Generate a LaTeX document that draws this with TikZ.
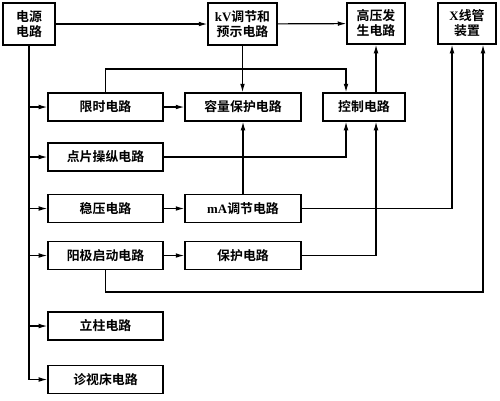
\documentclass[tikz,border=0pt]{standalone}
\usepackage{fontspec}
\setmainfont{Liberation Serif}
\newfontfamily\cjk{Noto Sans CJK SC}[BoldFont={Noto Sans CJK SC Bold}]
\usetikzlibrary{arrows.meta}
\newcommand\lat[1]{{\rmfamily\bfseries #1}}

\begin{document}
\begin{tikzpicture}[x=0.3mm,y=-0.3mm,
    line width=1pt,
    arr/.style={-{Latex[length=2.6mm,width=1.4mm]}}]

      \useasboundingbox (0,0) rectangle (500,400);

      \begin{scope}[every node/.style={draw,inner sep=0pt,align=center,
          minimum width=34.5mm,minimum height=8.4mm,
          font=\cjk\bfseries\fontsize{11}{12.8}\selectfont}]
        \node[minimum width=15.6mm,minimum height=12.6mm] (src)  at (29,24)    {电源\\电路};
        \node[minimum width=20.7mm,minimum height=12.6mm] (kv)   at (242.5,24) {\lat{kV}调节和\\预示电路};
        \node[minimum width=17.4mm,minimum height=12.3mm] (hv)   at (376,23.5) {高压发\\生电路};
        \node[minimum width=17.4mm,minimum height=12.3mm] (tube) at (467,23.5) {\lat{X}线管\\装置};
        \node (timer)   at (105.5,107)   {限时电路};
        \node[minimum width=34.8mm] (capprot) at (243,107) {容量保护电路};
        \node[minimum width=24.6mm] (ctrl)    at (364,107) {控制电路};
        \node (spot)    at (105.5,157)   {点片操纵电路};
        \node (stab)    at (105.5,208.5) {稳压电路};
        \node[minimum width=34.8mm] (ma)      at (243,208.5) {\lat{mA}调节电路};
        \node (anode)   at (105.5,255.5) {阳极启动电路};
        \node[minimum width=34.8mm] (prot)    at (243,255.5) {保护电路};
        \node (column)  at (105.5,326)   {立柱电路};
        \node (bed)     at (105.5,379.5) {诊视床电路};
      \end{scope}

      \coordinate (c1) at (346,69);
      \coordinate (t1) at (452,208.5);
      \coordinate (t2) at (483,292);

      \begin{scope}[every edge/.style={draw,arr}]
        \path (src)   edge (kv);
        \path (kv)    edge (hv);
        \path (timer) edge (capprot);
        \path (stab)  edge (ma);
        \path (anode) edge (prot);
        \path (kv.south) edge (kv.south |- capprot.north);
        \path (ma.north) edge (capprot.south);
        \path (hv.south |- ctrl.north) edge (hv.south);
      \end{scope}

      % power supply feeds the left column
      \draw (src.south) -- (src.south |- bed.west);
      \foreach \n in {timer,spot,stab,anode,column,bed}
        \draw[arr] (src.south |- \n.west) -- (\n.west);

      \draw[arr] (timer.north) |- (c1) -- (c1 |- ctrl.north);
      \draw[arr] (spot.east) -| (c1 |- ctrl.south);
      \draw[arr] (prot.east) -| (hv.south |- ctrl.south);
      \draw[arr] (ma.east) -| (t1 |- tube.south);
      \draw[arr] (anode.south) |- (t2) -- (t2 |- tube.south);

    \end{tikzpicture}
\end{document}
